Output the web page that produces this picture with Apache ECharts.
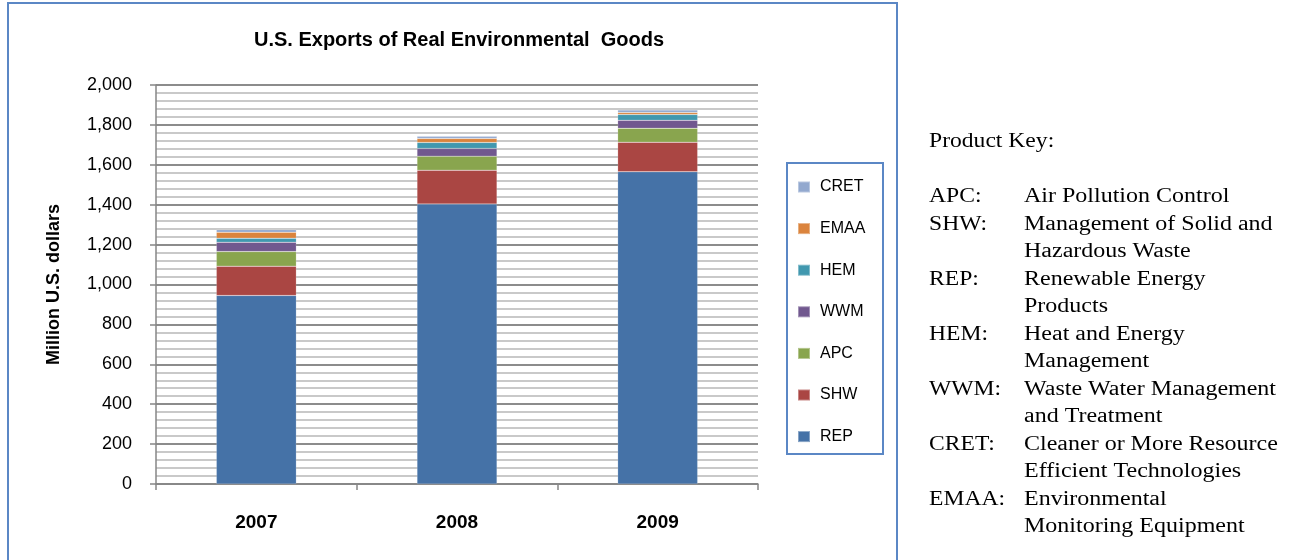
<!DOCTYPE html>
<html>
<head>
<meta charset="utf-8">
<script src="https://cdn.jsdelivr.net/npm/echarts@6/dist/echarts.min.js"></script>
<style>
html,body{margin:0;padding:0;background:#fff;}
#chart{width:1294px;height:560px;}
</style>
</head>
<body>
<div id="chart"></div>
<script>
const categories = ['2007', '2008', '2009'];
const REP  = [945, 1403, 1565];
const SHW  = [147, 170, 148];
const APC  = [73, 70, 70];
const WWM  = [47, 39, 40];
const HEM  = [20, 30, 29];
const EMAA = [30, 20, 10];
const CRET = [13, 11, 13];
const yTicks = [0, 200, 400, 600, 800, 1000, 1200, 1400, 1600, 1800, 2000];

const title = 'U.S. Exports of Real Environmental  Goods';
const yName = 'Million U.S. dollars';
const keyTitle = 'Product Key:';
const keyAbbr = ['APC:', 'SHW:', '', 'REP:', '', 'HEM:', '', 'WWM:', '', 'CRET:', '', 'EMAA:', ''];
const keyDesc = ['Air Pollution Control', 'Management of Solid and', 'Hazardous Waste',
  'Renewable Energy', 'Products', 'Heat and Energy', 'Management',
  'Waste Water Management', 'and Treatment', 'Cleaner or More Resource',
  'Efficient Technologies', 'Environmental', 'Monitoring Equipment'];

const seriesDefs = [
  ['REP', REP, '#4572A7'],
  ['SHW', SHW, '#AA4643'],
  ['APC', APC, '#89A54E'],
  ['WWM', WWM, '#71588F'],
  ['HEM', HEM, '#4198AF'],
  ['EMAA', EMAA, '#DB843D'],
  ['CRET', CRET, '#93A9CF']
];

const chart = echarts.init(document.getElementById('chart'), null, {renderer: 'canvas'});

const serifFont = '20px "Liberation Serif", "Times New Roman", serif';
const graphics = [
  {type: 'rect', shape: {x: 8, y: 3, width: 889, height: 600}, style: {fill: 'none', stroke: '#5B87C5', lineWidth: 2}, z: 0},
  {type: 'rect', shape: {x: 787, y: 163, width: 96, height: 291}, style: {fill: '#fff', stroke: '#5B87C5', lineWidth: 2}, z: 1},
  {type: 'text', x: 929, y: 142, scaleX: 1.18, style: {text: keyTitle, font: serifFont, fill: '#000', textVerticalAlign: 'middle'}, z: 5}
];
const lineY0 = 197, lineStep = 27.5;
keyDesc.forEach((d, i) => {
  const y = lineY0 + i * lineStep;
  if (keyAbbr[i]) graphics.push({type: 'text', x: 929, y: y, scaleX: 1.18, style: {text: keyAbbr[i], font: serifFont, fill: '#000', textVerticalAlign: 'middle'}, z: 5});
  graphics.push({type: 'text', x: 1024, y: y, scaleX: 1.2, style: {text: d, font: serifFont, fill: '#000', textVerticalAlign: 'middle'}, z: 5});
});

chart.setOption({
  animation: false,
  backgroundColor: '#fff',
  title: {
    text: title, left: 454, top: 25, textAlign: 'center',
    textStyle: {fontFamily: 'Liberation Sans, Arial', fontSize: 20, fontWeight: 'bold', color: '#000'}
  },
  legend: {
    orient: 'vertical', left: 792, top: 174,
    data: ['CRET', 'EMAA', 'HEM', 'WWM', 'APC', 'SHW', 'REP'],
    itemWidth: 12, itemHeight: 11, itemGap: 25.6,
    icon: 'rect',
    textStyle: {fontFamily: 'Liberation Sans, Arial', fontSize: 16, color: '#000', padding: [0, 0, 0, 5]},
    z: 3
  },
  grid: {left: 156, right: 536, top: 85, bottom: 76, containLabel: false},
  xAxis: {
    type: 'category', data: categories,
    axisLine: {lineStyle: {color: '#868686', width: 1.5}},
    axisTick: {show: true, length: 6, interval: 0, lineStyle: {color: '#868686', width: 1.5}},
    axisLabel: {margin: 29, fontFamily: 'Liberation Sans, Arial', fontSize: 19, fontWeight: 'bold', color: '#000'}
  },
  yAxis: {
    type: 'value', min: yTicks[0], max: yTicks[yTicks.length - 1], interval: 200,
    name: yName, nameLocation: 'middle', nameGap: 93, nameRotate: 90,
    nameTextStyle: {fontFamily: 'Liberation Sans, Arial', fontSize: 18, fontWeight: 'bold', color: '#000'},
    axisLine: {show: true, lineStyle: {color: '#868686', width: 1.5}},
    axisTick: {show: true, length: 6, lineStyle: {color: '#868686', width: 1.5}},
    axisLabel: {margin: 24, fontFamily: 'Liberation Sans, Arial', fontSize: 18, color: '#000',
      formatter: v => v.toLocaleString('en-US')},
    splitLine: {show: true, lineStyle: {color: '#8c8c8c', width: 2}},
    minorTick: {show: false, splitNumber: 5},
    minorSplitLine: {show: true, lineStyle: {color: '#c9c9c9', width: 2}}
  },
  graphic: graphics,
  series: seriesDefs.map(([name, data, color]) => ({
    name: name, type: 'bar', stack: 'total', data: data, barWidth: 80,
    itemStyle: {color: color, borderColor: 'rgba(255,255,255,0.35)', borderWidth: 0.5},
    z: 2
  }))
});
</script>
</body>
</html>
